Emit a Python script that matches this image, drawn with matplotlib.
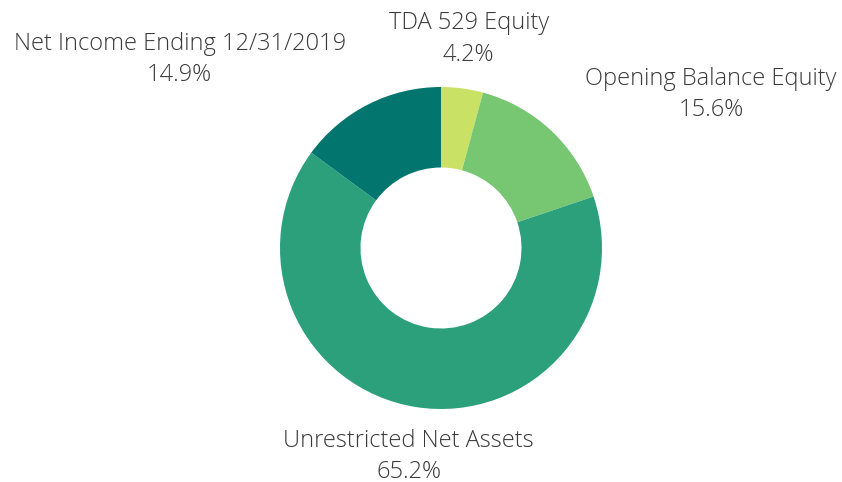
import numpy as np
import matplotlib.pyplot as plt

# data
labels = ["TDA 529 Equity", "Opening Balance Equity", "Unrestricted Net Assets", "Net Income Ending 12/31/2019"]
shares = [4.2, 15.6, 65.2, 14.9]
colors = ["#c9e266", "#77c672", "#2ca07b", "#03756f"]

plt.rcParams["font.family"] = ["Open Sans", "DejaVu Sans"]

W, H = 842, 482
cx, cy, R = 441, 248, 161  # pie centre / radius in pixels

fig = plt.figure(figsize=(W / 100, H / 100), dpi=100)
ax = fig.add_axes([0, 0, 1, 1])

wedges, _ = ax.pie(shares, colors=colors, startangle=90, counterclock=False,
                   radius=1, wedgeprops=dict(width=0.5, linewidth=0))

# pie() resets limits, so set them afterwards
ax.set_aspect("auto")
ax.set_xlim(-cx / R, (W - cx) / R)
ax.set_ylim(-(H - cy) / R, cy / R)
ax.axis("off")

for w, name, v in zip(wedges, labels, shares):
    ang = np.deg2rad((w.theta1 + w.theta2) / 2)
    x, y = 1.31 * np.cos(ang), 1.31 * np.sin(ang)
    c = np.cos(ang)
    ha = "center" if abs(c) < 0.2 else ("left" if c > 0 else "right")
    ax.text(x, y, f"{name}\n{v}%", ha=ha, va="center", multialignment="center",
            fontsize=17, color="#3a3a3a", fontweight="light", linespacing=1.4)

fig.savefig("out.png", dpi=100)
